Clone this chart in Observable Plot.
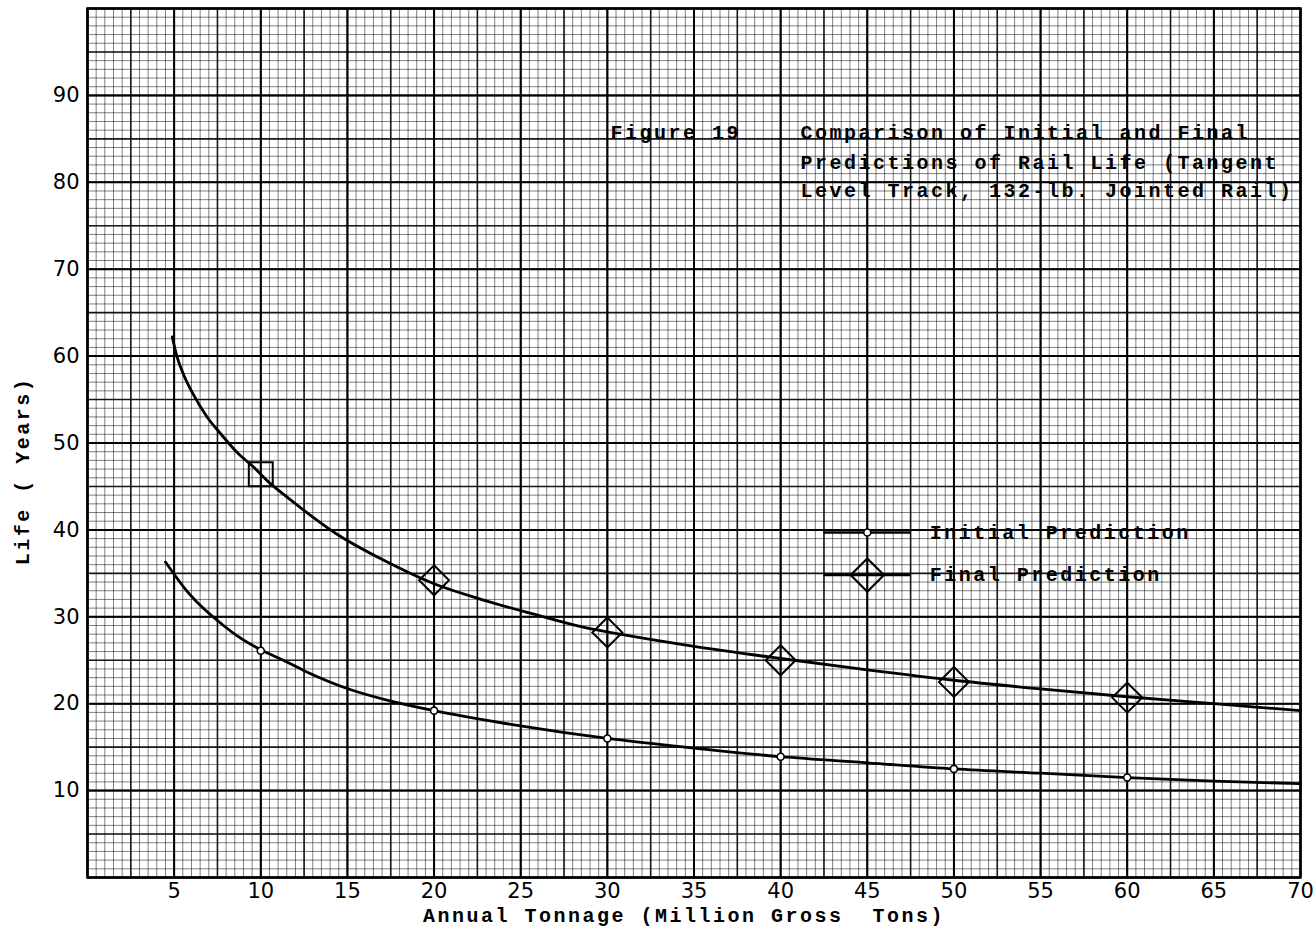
<!DOCTYPE html>
<html>
<head>
<meta charset="utf-8">
<script src="https://cdn.jsdelivr.net/npm/d3@7"></script>
<script src="https://cdn.jsdelivr.net/npm/@observablehq/plot@0.6"></script>
<style>
  html, body { margin: 0; padding: 0; background: #fff; }
  #chart { width: 1316px; height: 932px; }
  g[font-family*="Liberation Mono"] { letter-spacing: 2.5px; }
</style>
</head>
<body>
<div id="chart"></div>
<script>
// ---- Data ----
const xTicks = [5, 10, 15, 20, 25, 30, 35, 40, 45, 50, 55, 60, 65, 70];
const yTicks = [10, 20, 30, 40, 50, 60, 70, 80, 90];

const seriesNames = ["Initial Prediction", "Final Prediction"];

// Smooth curves
const initialCurveX = [4.5, 5.0, 5.56, 6.52, 7.48, 8.64, 10, 11.3, 12.5, 15.2, 17.5, 20, 24.8, 30, 35, 40, 45, 50, 55, 60, 65, 70];
const initialCurveY = [36.3, 34.9, 33.4, 31.3, 29.6, 27.8, 26.2, 25.0, 23.8, 21.6, 20.3, 19.2, 17.5, 16.0, 14.9, 13.9, 13.2, 12.5, 12.0, 11.5, 11.1, 10.8];
const finalCurveX = [4.89, 5.17, 5.56, 6.13, 6.9, 7.67, 8.64, 9.6, 10.46, 11.5, 14.4, 17.1, 20, 22.9, 25.75, 28.6, 31.3, 35, 40, 45, 50, 55, 60, 65, 70];
const finalCurveY = [62.2, 59.9, 57.8, 55.5, 53.0, 51.1, 48.9, 47.2, 45.5, 43.8, 39.5, 36.5, 33.8, 31.9, 30.3, 28.8, 27.8, 26.6, 25.2, 23.9, 22.7, 21.7, 20.8, 20.0, 19.2];

// Plotted markers
const initialPointX = [10, 20, 30, 40, 50, 60];
const initialPointY = [26.1, 19.2, 16.0, 13.9, 12.5, 11.5];
const finalPointX = [10, 20, 30, 40, 50, 60];
const finalPointY = [46.4, 34.2, 28.2, 25.0, 22.5, 20.7];

const titleLeft = "Figure 19";
const titleLines = [
  "Comparison of Initial and Final",
  "Predictions of Rail Life (Tangent",
  "Level Track, 132-lb. Jointed Rail)"
];
const xLabel = "Annual Tonnage (Million Gross\u00a0 Tons)";
const yLabel = "Life ( Years)";

// ---- Build tables ----
const initialCurve = initialCurveX.map((x, i) => ({x, y: initialCurveY[i]}));
const finalCurve = finalCurveX.map((x, i) => ({x, y: finalCurveY[i]}));
const initialPts = initialPointX.map((x, i) => ({x, y: initialPointY[i]}));
const finalPts = finalPointX.map((x, i) => ({x, y: finalPointY[i]}));

const MONO = "'Liberation Mono', 'DejaVu Sans Mono', monospace";
const SANS = "'DejaVu Sans', sans-serif";

// graph-paper grid lines
const minorX = d3.range(0, 70.01, 0.5);
const minorY = d3.range(0, 100.01, 1);
const medX = d3.range(0, 70.01, 2.5);
const medY = d3.range(0, 100.01, 5);
const majX = d3.range(0, 70.01, 5);
const majY = d3.range(0, 100.01, 10);

// legend placement (in data units)
const legY = [39.7, 34.8];

const titleOffsets = [0, 30, 58];

const chart = Plot.plot({
  width: 1316,
  height: 932,
  marginLeft: 87,
  marginRight: 16,
  marginTop: 8,
  marginBottom: 55,
  x: {domain: [0, 70]},
  y: {domain: [0, 100]},
  style: {background: "#fff", color: "#000"},
  marks: [
    Plot.ruleX(minorX, {stroke: "#000", strokeOpacity: 0.5, strokeWidth: 1}),
    Plot.ruleY(minorY, {stroke: "#000", strokeOpacity: 0.5, strokeWidth: 1}),
    Plot.ruleX(medX, {stroke: "#000", strokeOpacity: 0.85, strokeWidth: 1.6}),
    Plot.ruleY(medY, {stroke: "#000", strokeOpacity: 0.85, strokeWidth: 1.6}),
    Plot.ruleX(majX, {stroke: "#000", strokeWidth: 2}),
    Plot.ruleY(majY, {stroke: "#000", strokeWidth: 2}),
    Plot.frame({stroke: "#000", strokeWidth: 2.5}),

    Plot.axisX({ticks: xTicks, tickSize: 0, tickPadding: 6, label: null, fontSize: 21, fontFamily: SANS}),
    Plot.axisY({ticks: yTicks, tickSize: 0, tickPadding: 8, label: null, fontSize: 21, fontFamily: SANS}),

    // curves
    Plot.line(initialCurve, {x: "x", y: "y", curve: "monotone-x", stroke: "#000", strokeWidth: 2.8}),
    Plot.line(finalCurve, {x: "x", y: "y", curve: "monotone-x", stroke: "#000", strokeWidth: 2.8}),

    // markers
    Plot.dot(initialPts, {x: "x", y: "y", r: 3.5, fill: "#fff", stroke: "#000", strokeWidth: 1.6}),
    Plot.dot(finalPts.slice(0, 1), {x: "x", y: "y", symbol: "square", r: 13.5, fill: "none", stroke: "#000", strokeWidth: 2}),
    Plot.dot(finalPts.slice(1), {x: "x", y: "y", symbol: "diamond2", r: 13.5, fill: "none", stroke: "#000", strokeWidth: 2}),

    // legend
    Plot.ruleY([legY[0]], {x1: 42.5, x2: 47.5, stroke: "#000", strokeWidth: 2.5}),
    Plot.ruleY([legY[1]], {x1: 42.5, x2: 47.5, stroke: "#000", strokeWidth: 2.5}),
    Plot.dot([legY[0]], {x: 45, y: d => d, r: 3.5, fill: "#fff", stroke: "#000", strokeWidth: 1.6}),
    Plot.dot([legY[1]], {x: 45, y: d => d, symbol: "diamond2", r: 15, fill: "none", stroke: "#000", strokeWidth: 2.2}),
    Plot.text(seriesNames, {x: 48.6, y: (d, i) => legY[i], textAnchor: "start", lineAnchor: "middle", fontSize: 20, fontFamily: MONO, fontWeight: "bold", fill: "#000"}),

    // title block
    Plot.text([titleLeft], {frameAnchor: "top-left", dx: 523, dy: 124, textAnchor: "start", lineAnchor: "middle", fontSize: 20, fontFamily: MONO, fontWeight: "bold", fill: "#000"}),
    ...titleLines.map((t, i) =>
      Plot.text([t], {frameAnchor: "top-left", dx: 713, dy: 124 + titleOffsets[i], textAnchor: "start", lineAnchor: "middle", fontSize: 20, fontFamily: MONO, fontWeight: "bold", fill: "#000"})
    ),

    // axis labels
    Plot.text([xLabel], {frameAnchor: "bottom", dx: -10, dy: 38, textAnchor: "middle", lineAnchor: "middle", fontSize: 20, fontFamily: MONO, fontWeight: "bold", fill: "#000"}),
    Plot.text([yLabel], {frameAnchor: "left", dx: -65, dy: 28, rotate: -90, textAnchor: "middle", lineAnchor: "middle", fontSize: 20, fontFamily: MONO, fontWeight: "bold", fill: "#000"})
  ]
});

document.getElementById("chart").appendChild(chart);
</script>
</body>
</html>
